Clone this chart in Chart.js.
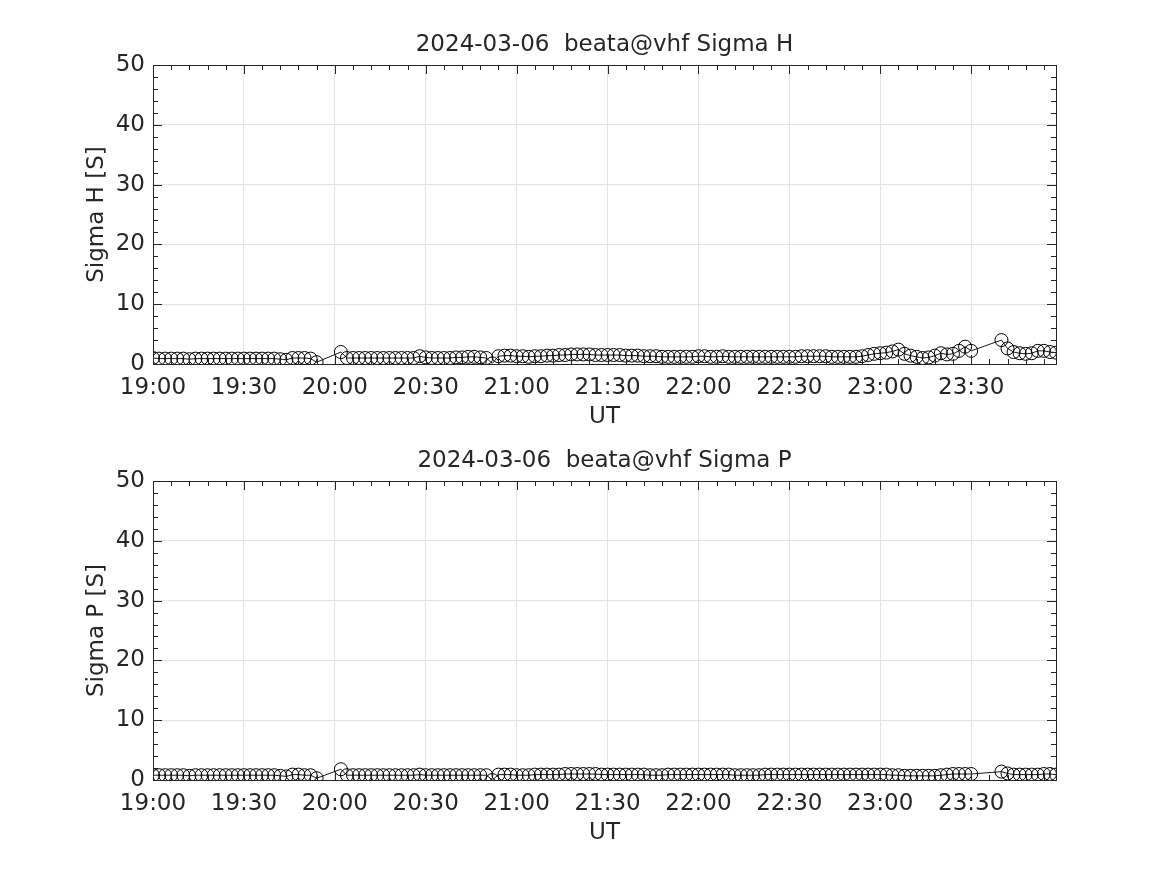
<!DOCTYPE html>
<html>
<head>
<meta charset="utf-8">
<script src="https://cdn.jsdelivr.net/npm/chart.js@4"></script>
<style>
  html, body { margin: 0; padding: 0; background: #fff; }
  #wrap { position: relative; width: 1167px; height: 875px; }
  canvas { position: absolute; left: 0; }
  #chartH { top: 0; }
  #chartP { top: 416px; }
</style>
</head>
<body>
<div id="wrap">
  <canvas id="chartH" width="1167" height="440"></canvas>
  <canvas id="chartP" width="1167" height="440"></canvas>
</div>
<script>
// minutes after 19:00 UT
const minutes = [
  0, 2, 4, 6, 8, 10, 12, 14, 16, 18, 20, 22, 24, 26, 28, 30, 32, 34, 36, 38, 40, 42, 44, 46, 48, 50, 52, 54,
  62, 64, 66, 68, 70, 72, 74, 76, 78, 80, 82, 84, 86, 88, 90, 92, 94, 96, 98, 100, 102, 104, 106, 108, 110,
  112, 114, 116, 118, 120, 122, 124, 126, 128,
  130, 132, 134, 136, 138, 140, 142, 144, 146, 148, 150, 152, 154, 156,
  158, 160, 162, 164, 166, 168, 170, 172, 174, 176, 178, 180,
  182, 184, 186, 188, 190, 192, 194, 196, 198, 200, 202, 204, 206, 208, 210, 212, 214, 216, 218, 220, 222, 224, 226, 228,
  230, 232, 234, 236, 238, 240, 242, 244, 246, 248, 250, 252, 254, 256, 258, 260, 262, 264, 266, 268, 270,
  280, 282, 284, 286, 288, 290, 292, 294, 296, 298
];

const sigmaH = [
  1.0, 0.9, 0.9, 0.9, 0.9, 0.9, 0.8, 0.9, 0.9, 0.9, 0.9, 0.9, 0.9, 0.9, 0.9, 0.9, 0.9, 0.9, 0.9, 0.9, 0.9, 0.8, 0.7, 1.0, 1.0, 1.0, 0.9, 0.3,
  2.0, 1.0, 1.0, 1.0, 1.0, 1.0, 1.0, 1.0, 1.0, 1.0, 1.0, 1.0, 1.0, 1.3, 1.1, 1.0, 1.0, 1.0, 1.0, 1.1, 1.1, 1.2, 1.2, 1.1, 1.0,
  0.1, 1.3, 1.4, 1.4, 1.3, 1.3, 1.2, 1.3, 1.3,
  1.4, 1.4, 1.5, 1.5, 1.6, 1.6, 1.6, 1.6, 1.5, 1.5, 1.5, 1.5, 1.5, 1.4,
  1.4, 1.4, 1.3, 1.3, 1.3, 1.2, 1.2, 1.2, 1.2, 1.2, 1.2, 1.3,
  1.3, 1.2, 1.2, 1.3, 1.2, 1.2, 1.2, 1.2, 1.2, 1.2, 1.2, 1.2, 1.2, 1.2, 1.2, 1.2, 1.3, 1.3, 1.3, 1.3, 1.3, 1.2, 1.2, 1.2,
  1.2, 1.2, 1.3, 1.5, 1.7, 1.8, 1.9, 2.1, 2.4, 1.7, 1.4, 1.2, 1.0, 1.1, 1.4, 1.8, 1.6, 1.7, 2.2, 2.9, 2.2,
  4.0, 2.6, 2.0, 1.8, 1.7, 1.8, 2.2, 2.2, 2.0, 1.9
];

const sigmaP = [
  0.8, 0.8, 0.8, 0.8, 0.8, 0.8, 0.7, 0.8, 0.8, 0.8, 0.8, 0.8, 0.8, 0.8, 0.8, 0.8, 0.8, 0.8, 0.8, 0.8, 0.8, 0.7, 0.6, 0.9, 0.9, 0.8, 0.8, 0.3,
  1.8, 0.8, 0.8, 0.8, 0.8, 0.8, 0.8, 0.8, 0.8, 0.8, 0.8, 0.8, 0.8, 0.9, 0.8, 0.8, 0.8, 0.8, 0.8, 0.8, 0.8, 0.8, 0.8, 0.8, 0.8,
  0.0, 0.9, 0.9, 0.9, 0.8, 0.8, 0.8, 0.9, 0.9,
  0.9, 0.9, 0.9, 1.0, 1.0, 1.0, 1.0, 1.0, 1.0, 0.9, 0.9, 0.9, 0.9, 0.9,
  0.9, 0.9, 0.9, 0.8, 0.8, 0.8, 0.9, 0.9, 0.9, 0.9, 0.9, 0.9,
  0.9, 0.9, 0.9, 0.9, 0.9, 0.8, 0.8, 0.8, 0.8, 0.8, 0.9, 0.9, 0.9, 0.9, 0.9, 0.9, 0.9, 0.9, 0.9, 0.9, 0.9, 0.9, 0.9, 0.9,
  0.9, 0.9, 0.9, 0.9, 0.9, 0.9, 0.9, 0.8, 0.8, 0.7, 0.7, 0.7, 0.7, 0.7, 0.7, 0.8, 0.9, 1.0, 1.0, 1.0, 1.0,
  1.4, 1.1, 0.9, 0.9, 0.9, 0.9, 0.9, 1.0, 1.0, 0.9
];

const TEXT = '#262626';
const FONT = 'DejaVu Sans';
const FSIZE = 23;

function fmtUT(v) {
    const h = 19 + Math.floor(v / 60);
    const m = v % 60;
    return h + ':' + (m < 10 ? '0' : '') + m;
}

// box around the axes with inward major + minor ticks on all four sides,
// and the panel title centred over the plot area
const boxTicks = {
    id: 'boxTicks',
    afterDraw(chart, args, opts) {
        const { ctx, chartArea: a, scales: { x, y } } = chart;
        ctx.save();
        ctx.strokeStyle = TEXT;
        ctx.lineWidth = 1;
        ctx.beginPath();
        for (let v = 0; v <= x.max; v += 6) {
            const px = Math.round(x.getPixelForValue(v)) + 0.5;
            const len = v % 30 === 0 ? 9 : 5;
            ctx.moveTo(px, a.bottom); ctx.lineTo(px, a.bottom - len);
            ctx.moveTo(px, a.top); ctx.lineTo(px, a.top + len);
        }
        for (let v = 0; v <= 50; v += 2) {
            const py = Math.round(y.getPixelForValue(v)) + 0.5;
            const len = v % 10 === 0 ? 9 : 5;
            ctx.moveTo(a.left, py); ctx.lineTo(a.left + len, py);
            ctx.moveTo(a.right, py); ctx.lineTo(a.right - len, py);
        }
        ctx.stroke();
        ctx.strokeRect(Math.round(a.left) + 0.5, Math.round(a.top) + 0.5,
            Math.round(a.right - a.left), Math.round(a.bottom - a.top));

        ctx.fillStyle = TEXT;
        ctx.font = FSIZE + 'px "' + FONT + '"';
        ctx.textAlign = 'center';
        ctx.textBaseline = 'middle';
        ctx.fillText(opts.text, (a.left + a.right) / 2, a.top - 20);
        ctx.restore();
    }
};

function makePanel(canvasId, values, title, yLabel) {
    const points = minutes.map((m, i) => ({ x: m, y: values[i] }));
    return new Chart(document.getElementById(canvasId), {
        type: 'line',
        data: {
            datasets: [{
                data: points,
                borderColor: '#000',
                borderWidth: 0.9,
                pointStyle: 'circle',
                pointRadius: 6.5,
                pointBorderWidth: 1,
                pointBorderColor: '#000',
                pointBackgroundColor: 'rgba(0,0,0,0)',
                tension: 0
            }]
        },
        options: {
            responsive: false,
            animation: false,
            layout: { padding: { left: 0, right: 111, top: 65, bottom: 0 } },
            scales: {
                x: {
                    type: 'linear',
                    min: 0,
                    max: 298,
                    grid: { color: '#e3e3e3', drawTicks: false },
                    border: { display: false },
                    ticks: {
                        stepSize: 30,
                        includeBounds: false,
                        autoSkip: false,
                        maxRotation: 0,
                        padding: 10,
                        color: TEXT,
                        font: { family: FONT, size: FSIZE },
                        callback: v => fmtUT(v)
                    },
                    title: {
                        display: true, text: 'UT', color: TEXT,
                        font: { family: FONT, size: FSIZE },
                        padding: { top: 0, bottom: 9 }
                    },
                    afterFit(scale) { scale.height = 76; }
                },
                y: {
                    min: 0,
                    max: 50,
                    grid: { color: '#e3e3e3', drawTicks: false },
                    border: { display: false },
                    ticks: {
                        stepSize: 10,
                        padding: 8,
                        color: TEXT,
                        font: { family: FONT, size: FSIZE }
                    },
                    title: {
                        display: true, text: yLabel, color: TEXT,
                        font: { family: FONT, size: FSIZE },
                        padding: { top: 83, bottom: 0 }
                    },
                    afterFit(scale) { scale.width = 153; }
                }
            },
            plugins: {
                legend: { display: false },
                tooltip: { enabled: false },
                title: { display: false },
                boxTicks: { text: title }
            }
        },
        plugins: [boxTicks]
    });
}

makePanel('chartH', sigmaH, '2024-03-06  beata@vhf Sigma H', 'Sigma H [S]');
makePanel('chartP', sigmaP, '2024-03-06  beata@vhf Sigma P', 'Sigma P [S]');
</script>
</body>
</html>
